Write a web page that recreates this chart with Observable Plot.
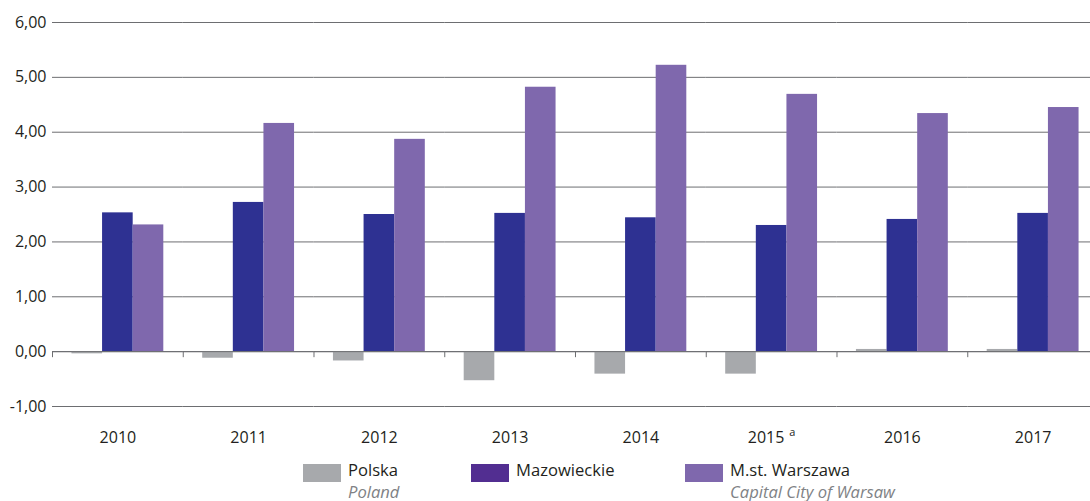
<!DOCTYPE html>
<html><head><meta charset="utf-8">
<script src="https://cdn.jsdelivr.net/npm/d3@7"></script>
<script src="https://cdn.jsdelivr.net/npm/@observablehq/plot@0.6"></script>
<style>
html,body{margin:0;padding:0;background:#fff;overflow:hidden;}
#legend{display:flex;margin-top:9px;padding-left:303px;font-family:"Open Sans",sans-serif;font-size:16.6px;color:#231f20;}
.item{display:flex;align-items:flex-start;}
.sw{width:38px;height:18px;margin-top:5px;margin-right:7px;flex:none;}
.txt{line-height:22px;white-space:nowrap;}
.en{font-style:italic;color:#808285;}
</style></head>
<body><div id="chart"></div><div id="legend"></div>
<script>
// ---- data ----
const years = ["2010","2011","2012","2013","2014","2015","2016","2017"];
const yearNotes = {"2015": "a"};
const series = ["Polska","Mazowieckie","M.st. Warszawa"];
const seriesEn = ["Poland","","Capital City of Warsaw"];
const polska      = [-0.04,-0.12,-0.17,-0.53,-0.41,-0.41,0.04,0.04];
const mazowieckie = [2.53, 2.72, 2.50, 2.52, 2.44, 2.30, 2.41, 2.52];
const warszawa    = [2.31, 4.16, 3.87, 4.82, 5.22, 4.69, 4.34, 4.45];
const yTicks = [-1,0,1,2,3,4,5,6];
const barColors = ["#a7a9ac","#2e3192","#7f68ad"];
const legendColors = ["#a7a9ac","#522e91","#7f68ad"];

// ---- build table ----
const values = [polska, mazowieckie, warszawa];
const data = [];
years.forEach((y, i) => series.forEach((s, k) => data.push({year: y, series: s, value: values[k][i]})));

const W = 1090, H = 450, ML = 52, MT = 22, MB = 44;
const fxRange = [ML, 1098];
const padOuter = 0.635;
const facetW = (fxRange[1] - fxRange[0]) / years.length;
const step = facetW / (series.length + 2 * padOuter);
const edgeOffset = padOuter * step + step / 2;

const gridColor = "#6d6e71";
const chart = Plot.plot({
  width: W, height: H,
  marginLeft: ML, marginRight: 0, marginTop: MT, marginBottom: MB,
  style: {fontFamily: "'Open Sans', sans-serif", fontSize: "16px", color: "#231f20", background: "#fff"},
  fx: {domain: years, range: fxRange, padding: 0, round: false, axis: null},
  x: {domain: series, paddingInner: 0, paddingOuter: padOuter, round: false, axis: null},
  y: {domain: [-1, 6], axis: null},
  color: {domain: series, range: barColors},
  marks: [
    Plot.ruleY(yTicks, {stroke: gridColor, strokeWidth: 1}),
    Plot.barY(data, {fx: "year", x: "series", y: "value", fill: "series"}),
    Plot.ruleY([0], {stroke: gridColor, strokeWidth: 1}),
    Plot.ruleX(years, {fx: d => d, x: () => series[0], y1: 0, y2: -0.11, dx: -edgeOffset, stroke: gridColor}),
    Plot.axisY(yTicks, {tickSize: 0, tickPadding: 6, fontSize: 16, label: null,
      tickFormat: d => d.toFixed(2).replace(".", ",")}),
    Plot.axisFx({anchor: "bottom", tickSize: 0, tickPadding: 25, fontSize: 16, label: null})
  ]
});
document.getElementById("chart").appendChild(chart);

// superscript footnote marks on year labels
d3.select(chart).selectAll("text").each(function() {
  const t = d3.select(this);
  const s = t.text();
  if (yearNotes[s]) {
    t.append("tspan").attr("dx", "5").attr("dy", "-0.6em").attr("font-size", "11px").text(yearNotes[s]);
  }
});

// legend
const leg = d3.select("#legend");
const widths = [168, 214, null];
series.forEach((s, k) => {
  const it = leg.append("div").attr("class", "item");
  if (widths[k]) it.style("width", widths[k] + "px");
  it.append("div").attr("class", "sw").style("background", legendColors[k]);
  const tx = it.append("div").attr("class", "txt");
  tx.append("div").text(s);
  if (seriesEn[k]) tx.append("div").attr("class", "en").text(seriesEn[k]);
});
</script>
</body></html>
